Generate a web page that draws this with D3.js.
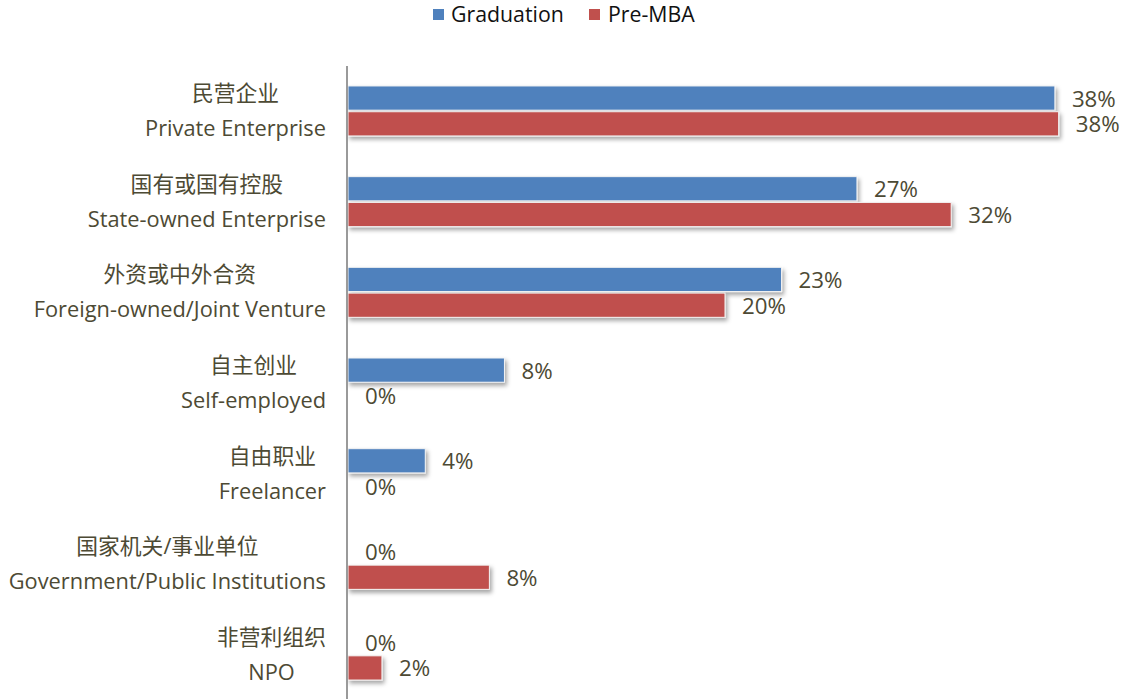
<!DOCTYPE html>
<html>
<head>
<meta charset="utf-8">
<script src="https://cdn.jsdelivr.net/npm/d3@7"></script>
<style>
  body { margin: 0; background: #fff; }
  text { font-family: "Open Sans", "Noto Sans CJK SC", sans-serif; }
</style>
</head>
<body>
<div id="chart"></div>
<script>
// category labels (two lines each)
const categoriesCn = ["民营企业", "国有或国有控股", "外资或中外合资", "自主创业", "自由职业", "国家机关/事业单位", "非营利组织"];
const categoriesEn = ["Private Enterprise", "State-owned Enterprise", "Foreign-owned/Joint Venture", "Self-employed", "Freelancer", "Government/Public Institutions", "NPO"];

const seriesNames = ["Graduation", "Pre-MBA"];
// bar lengths (%)
const graduation = [37.5, 27.0, 23.0, 8.3, 4.1, 0, 0];
const preMba = [37.7, 32.0, 20.0, 0, 0, 7.5, 1.8];
// labels printed next to the bars
const graduationLabels = ["38%", "27%", "23%", "8%", "4%", "0%", "0%"];
const preMbaLabels = ["38%", "32%", "20%", "0%", "0%", "8%", "2%"];

const colors = ["#4F81BD", "#C0504D"];
const textColor = "#4d4a34";

const width = 1129, height = 699;
const svg = d3.select("#chart").append("svg")
   .attr("width", width)
   .attr("height", height);

const defs = svg.append("defs");
const f = defs.append("filter").attr("id", "shadow")
   .attr("x", "-10%").attr("y", "-30%").attr("width", "130%").attr("height", "190%");
f.append("feDropShadow").attr("dx", 2).attr("dy", 3).attr("stdDeviation", 2)
   .attr("flood-color", "#000").attr("flood-opacity", 0.35);

const rows = categoriesEn.map((en, i) => ({
   cn: categoriesCn[i], en: en,
   vals: [
      { s: 0, v: graduation[i], label: graduationLabels[i] },
      { s: 1, v: preMba[i], label: preMbaLabels[i] }
   ]
}));

const xScale = d3.scaleLinear().domain([0, 40]).range([348, 1102]);

const yScale = d3.scaleBand()
   .domain(categoriesEn)
   .range([66, 700])
   .paddingInner(0.4486)
   .paddingOuter(0.22);

const inner = d3.scaleBand()
   .domain([0, 1])
   .range([0, yScale.bandwidth()])
   .paddingInner(0.06);

// legend
const legend = svg.append("g");
const legendItems = [{ name: seriesNames[0], x: 433, tx: 451 }, { name: seriesNames[1], x: 589, tx: 608 }];
legendItems.forEach((d, i) => {
   legend.append("rect")
      .attr("x", d.x).attr("y", 9)
      .attr("width", 11).attr("height", 11)
      .attr("fill", colors[i]);
   legend.append("text")
      .attr("x", d.tx).attr("y", 22)
      .attr("font-size", 21.3)
      .attr("fill", "#111")
      .text(d.name);
});

const groups = svg.selectAll("g.cat")
   .data(rows)
   .enter()
   .append("g")
   .attr("class", "cat")
   .attr("transform", (d) => "translate(0," + yScale(d.en) + ")");

groups.selectAll("rect")
   .data((d) => d.vals.filter((e) => e.v > 0))
   .enter()
   .append("rect")
   .attr("x", xScale(0))
   .attr("y", (d) => inner(d.s))
   .attr("width", (d) => xScale(d.v) - xScale(0))
   .attr("height", inner.bandwidth())
   .attr("fill", (d) => colors[d.s])
   .attr("stroke", "#f4f4f4")
   .attr("stroke-width", 1)
   .attr("filter", "url(#shadow)");

groups.selectAll("text.val")
   .data((d) => d.vals)
   .enter()
   .append("text")
   .attr("class", "val")
   .attr("x", (d) => xScale(d.v) + 17)
   .attr("y", (d) => inner(d.s) + inner.bandwidth() / 2 + 8.5)
   .attr("font-size", 22.3)
   .attr("fill", textColor)
   .text((d) => d.label);

// category labels: two centered lines, block right-aligned
groups.each(function (d) {
   const g = d3.select(this);
   const cn = g.append("text")
      .attr("y", 15)
      .attr("font-size", 21.8)
      .attr("font-family", "'Noto Sans CJK SC', sans-serif")
      .attr("fill", textColor)
      .attr("text-anchor", "middle")
      .text(d.cn);
   const en = g.append("text")
      .attr("y", 50)
      .attr("font-size", 21.8)
      .attr("fill", textColor)
      .attr("text-anchor", "middle")
      .text(d.en);
   const w = Math.max(cn.node().getComputedTextLength(), en.node().getComputedTextLength());
   const cx = 326 - w / 2;
   cn.attr("x", cx);
   en.attr("x", cx);
});

// vertical axis line
svg.append("line")
   .attr("x1", 347).attr("x2", 347)
   .attr("y1", 66).attr("y2", height)
   .attr("stroke", "#9a9a9a")
   .attr("stroke-width", 2);
</script>
</body>
</html>
